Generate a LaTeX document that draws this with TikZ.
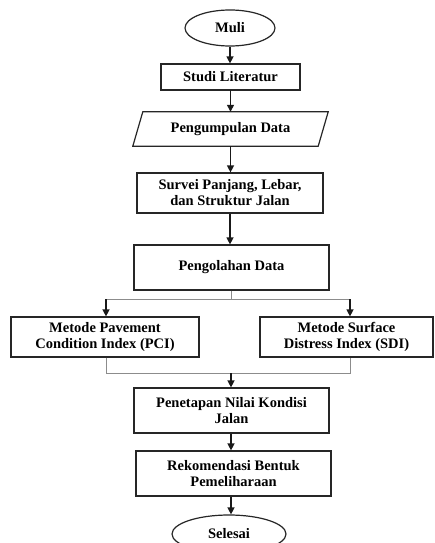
\documentclass[tikz,border=0pt]{standalone}
\usepackage{fontspec}
\setmainfont{Liberation Serif}
\usetikzlibrary{arrows.meta,shapes.geometric}
\begin{document}
\begin{tikzpicture}[x=1pt,y=-1pt,
 txt/.style={font=\fontsize{14.5}{16}\selectfont\bfseries, align=center, inner sep=0pt},
 box/.style={txt, draw=black!85, line width=1.2pt},
 term/.style={txt, ellipse, draw=black!85, line width=1.2pt},
 arr/.style={-{Triangle[length=7pt,width=7pt]}, line width=1.3pt, black!90},
 link/.style={draw=black!45, line width=0.8pt}]
\useasboundingbox[fill=white] (0,0) rectangle (435,543);
\node[term, minimum width=90, minimum height=36] (muli) at (230,28) {Muli};
\node[box, minimum width=139, minimum height=26] (studi) at (230.5,77) {Studi Literatur};
\node[txt, minimum width=185, minimum height=34] (data) at (230.5,129) {Pengumpulan Data};
\draw[draw=black!85, line width=1.2pt] ([xshift=5pt]data.north west) -- ([xshift=5pt]data.north east) -- ([xshift=-5pt]data.south east) -- ([xshift=-5pt]data.south west) -- cycle;
\node[box, minimum width=186, minimum height=40] (survei) at (230,193) {Survei Panjang, Lebar,\\dan Struktur Jalan};
\node[box, minimum width=195, minimum height=45] (olah) at (231.5,267.5) {Pengolahan Data};
\node[box, minimum width=188, minimum height=40] (pci) at (105,337) {Metode Pavement\\Condition Index (PCI)};
\node[box, minimum width=173, minimum height=40] (sdi) at (346.5,337) {Metode Surface\\Distress Index (SDI)};
\node[box, minimum width=195, minimum height=45] (pen) at (231.5,410.5) {Penetapan Nilai Kondisi\\Jalan};
\node[box, minimum width=195, minimum height=45] (rek) at (233.5,473.5) {Rekomendasi Bentuk\\Pemeliharaan};
\node[term, minimum width=114, minimum height=38] (sel) at (229,534) {Selesai};
\coordinate (bm) at (231,299);
\coordinate (bl) at (106,299);
\coordinate (br) at (350,299);
\coordinate (jl) at (106,373);
\coordinate (jr) at (350,373);
\coordinate (jm) at (231,373);
\draw[arr] (muli.south) -- (muli.south |- studi.north);
\draw[arr] (230.5,90) coordinate (s1) -- (s1 |- data.north);
\draw[arr] (230.5,146) coordinate (s2) -- (s2 |- survei.north);
\draw[arr] (survei.south) -- (survei.south |- olah.north);
\draw[link] (bm |- olah.south) -- (bm);
\draw[link] (bl) -- (br);
\draw[arr] (bl) -- (bl |- pci.north);
\draw[arr] (br) -- (br |- sdi.north);
\draw[link] (jl |- pci.south) -- (jl) -- (jr) -- (jr |- sdi.south);
\draw[arr] (jm) -- (jm |- pen.north);
\draw[arr] (jm |- pen.south) -- (jm |- rek.north);
\draw[arr] (jm |- rek.south) -- (jm |- sel.north);
\end{tikzpicture}
\end{document}
